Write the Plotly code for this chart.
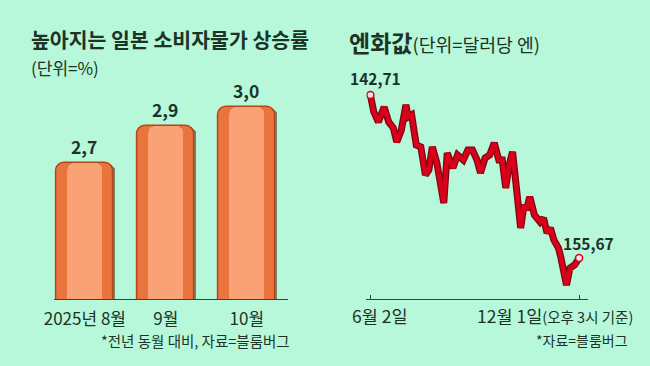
import plotly.graph_objects as go

# ---- data ----
cpi_months = ["2025년 8월", "9월", "10월"]
cpi_values = [2.7, 2.9, 3.0]

yen_dates = ["2025-06-02", "2025-06-05", "2025-06-09", "2025-06-14", "2025-06-18", "2025-06-22",
             "2025-06-25", "2025-06-29", "2025-07-03", "2025-07-05", "2025-07-08", "2025-07-12",
             "2025-07-16", "2025-07-20", "2025-07-23", "2025-07-26", "2025-07-30", "2025-08-01",
             "2025-08-05", "2025-08-08", "2025-08-13", "2025-08-17", "2025-08-22", "2025-08-26",
             "2025-08-30", "2025-09-03", "2025-09-06", "2025-09-10", "2025-09-14", "2025-09-18",
             "2025-09-22", "2025-09-25", "2025-09-28", "2025-10-01", "2025-10-04", "2025-10-08",
             "2025-10-11", "2025-10-14", "2025-10-16", "2025-10-19", "2025-10-23", "2025-10-28",
             "2025-10-31", "2025-11-03", "2025-11-06", "2025-11-09", "2025-11-13", "2025-11-15",
             "2025-11-20", "2025-11-23", "2025-11-27", "2025-12-01"]
yen_values = [142.71, 144.06, 144.86, 143.66, 144.86, 145.33, 146.45, 145.49, 143.50, 144.46,
              144.30, 146.69, 146.84, 149.07, 148.67, 146.84, 148.12, 149.07, 151.30, 147.32,
              148.51, 147.48, 147.88, 147.08, 147.08, 147.88, 148.91, 147.72, 147.48, 146.53,
              147.88, 147.88, 150.10, 148.28, 147.24, 150.66, 153.28, 151.46, 151.85, 150.82,
              152.25, 152.81, 152.49, 153.68, 153.28, 154.24, 154.88, 155.59, 157.82, 156.47,
              156.23, 155.67]
yen_tick_dates = ["2025-06-02", "2025-12-01"]

FONT = "Noto Sans CJK KR"
BG = "#b7f8da"
INK = "#1c3326"

bar_pos = list(range(len(cpi_months)))

fig = go.Figure()

# bar shadow
fig.add_trace(go.Bar(x=bar_pos, y=cpi_values, width=0.70, offset=-0.32,
                     marker=dict(color="rgba(70,30,10,0.55)", cornerradius=9, line=dict(width=0)),
                     xaxis="x", yaxis="y", hoverinfo="skip", showlegend=False))
# main bars
fig.add_trace(go.Bar(x=bar_pos, y=cpi_values, width=0.70,
                     marker=dict(color="#e9743d", cornerradius=9, line=dict(color="#b24619", width=1.5)),
                     text=[f"<b>{v:.1f}</b>".replace(".", ",") for v in cpi_values],
                     textposition="outside", cliponaxis=False,
                     textfont=dict(family=FONT, size=17.5, color=INK),
                     xaxis="x", yaxis="y", showlegend=False))
# highlight
fig.add_trace(go.Bar(x=bar_pos, y=cpi_values, width=0.44,
                     marker=dict(color="rgba(250,170,128,0.85)", cornerradius=7, line=dict(width=0)),
                     xaxis="x", yaxis="y", hoverinfo="skip", showlegend=False))

# yen line: dark outline + red core
fig.add_trace(go.Scatter(x=yen_dates, y=yen_values, mode="lines",
                         line=dict(color="#7c0710", width=7),
                         xaxis="x2", yaxis="y2", hoverinfo="skip", showlegend=False))
fig.add_trace(go.Scatter(x=yen_dates, y=yen_values, mode="lines",
                         line=dict(color="#d9001b", width=4.5),
                         xaxis="x2", yaxis="y2", showlegend=False))
fig.add_trace(go.Scatter(x=[yen_dates[0], yen_dates[-1]], y=[yen_values[0], yen_values[-1]],
                         mode="markers",
                         marker=dict(size=7, color="#ffe6ea", line=dict(color="#d9001b", width=1.5)),
                         xaxis="x2", yaxis="y2", showlegend=False))

ann = []
ann.append(dict(x=yen_dates[0], y=yen_values[0], xref="x2", yref="y2",
                text=f"<b>{yen_values[0]:.2f}</b>".replace(".", ","), showarrow=False,
                xshift=5, yshift=17, font=dict(family=FONT, size=15.5, color=INK)))
ann.append(dict(x=yen_dates[-1], y=yen_values[-1], xref="x2", yref="y2",
                text=f"<b>{yen_values[-1]:.2f}</b>".replace(".", ","), showarrow=False,
                xshift=9, yshift=15, font=dict(family=FONT, size=15.5, color=INK)))

def P(px, py):
    return px / 650, (366 - py) / 366

x, y = P(19, 39)
ann.append(dict(x=x, y=y, xref="paper", yref="paper", xanchor="left", yanchor="middle",
                text="<b>높아지는 일본 소비자물가 상승률</b>", showarrow=False,
                font=dict(family=FONT, size=20.5, color=INK)))
x, y = P(19, 67)
ann.append(dict(x=x, y=y, xref="paper", yref="paper", xanchor="left", yanchor="middle",
                text="(단위=%)", showarrow=False, font=dict(family=FONT, size=17, color=INK)))
x, y = P(342, 42)
ann.append(dict(x=x, y=y, xref="paper", yref="paper", xanchor="left", yanchor="middle",
                text="<b>엔화값</b><span style='font-size:18.3px'>(단위=달러당 엔)</span>", showarrow=False,
                font=dict(family=FONT, size=23, color=INK)))
x, y = P(345, 315)
ann.append(dict(x=x, y=y, xref="paper", yref="paper", xanchor="left", yanchor="middle",
                text="6월 2일", showarrow=False, font=dict(family=FONT, size=17.5, color=INK)))
x, y = P(472, 315)
ann.append(dict(x=x, y=y, xref="paper", yref="paper", xanchor="left", yanchor="middle",
                text="12월 1일<span style='font-size:14.5px'>(오후 3시 기준)</span>", showarrow=False,
                font=dict(family=FONT, size=17.5, color=INK)))
x, y = P(90, 340)
ann.append(dict(x=x, y=y, xref="paper", yref="paper", xanchor="left", yanchor="middle",
                text="*전년 동월 대비, 자료=블룸버그", showarrow=False,
                font=dict(family=FONT, size=14.5, color=INK)))
x, y = P(630, 340)
ann.append(dict(x=x, y=y, xref="paper", yref="paper", xanchor="right", yanchor="middle",
                text="*자료=블룸버그", showarrow=False,
                font=dict(family=FONT, size=14, color=INK)))

fig.update_layout(
    width=650, height=366,
    margin=dict(l=0, r=0, t=0, b=0),
    paper_bgcolor=BG, plot_bgcolor=BG,
    barmode="overlay", bargap=0,
    font=dict(family=FONT, color=INK),
    annotations=ann,
    xaxis=dict(domain=[45 / 650, 282 / 650], range=[-0.377, 2.505], type="linear",
               autorange=False,
               tickvals=bar_pos, ticktext=cpi_months,
               showline=True, linecolor="#2c4a38", linewidth=1, ticks="",
               ticklabelstandoff=5,
               tickfont=dict(family=FONT, size=17, color=INK), showgrid=False, zeroline=False),
    yaxis=dict(domain=[(366 - 299) / 366, (366 - 80) / 366], range=[1.969, 3.148],
               autorange=False, visible=False, showgrid=False, zeroline=False),
    xaxis2=dict(domain=[362 / 650, 587 / 650], type="date",
                range=["2025-05-29 13:40", "2025-12-08 17:30"], autorange=False,
                showline=True, linecolor="#2c4a38", linewidth=1,
                tickvals=yen_tick_dates, ticks="inside", ticklen=4, tickcolor="#2c4a38",
                showticklabels=False, showgrid=False, zeroline=False),
    yaxis2=dict(domain=[(366 - 299) / 366, (366 - 80) / 366], range=[158.93, 141.52],
                autorange=False, anchor="x2", visible=False, showgrid=False, zeroline=False),
)

fig.write_html("out.html", config={"displayModeBar": False},
               post_script="document.body.style.margin='0';document.body.style.overflow='hidden';")
